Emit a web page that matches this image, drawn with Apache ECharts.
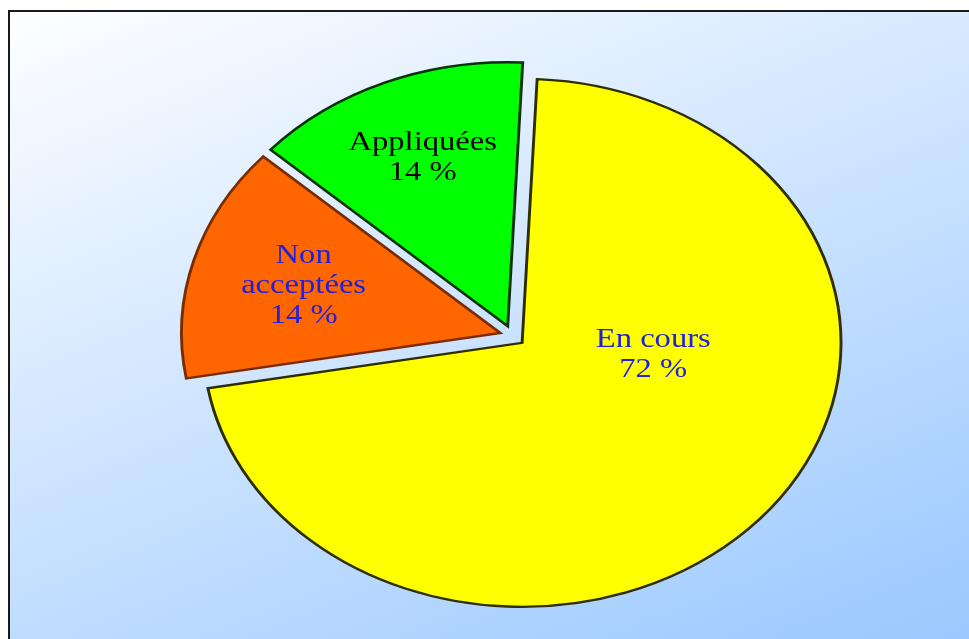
<!DOCTYPE html>
<html>
<head>
<meta charset="utf-8">
<script src="https://cdn.jsdelivr.net/npm/echarts@6/dist/echarts.min.js"></script>
<style>
  html, body { margin: 0; padding: 0; background: #ffffff; }
  #chart { width: 969px; height: 639px; }
</style>
</head>
<body>
<div id="chart"></div>
<script>
  // data, clockwise from the top (shares,
  // the labels show them rounded)
  var categories = ['En cours', 'Non acceptées', 'Appliquées'];
  var values = [71.5, 14.4, 14.1];

  // look of each slice
  var sliceColors = ['#ffff00', '#ff6600', '#00ff00'];
  var edgeColors = ['#2e2e00', '#7a2c00', '#0b330b'];
  var textColors = ['#2020e0', '#2020e0', '#000000'];

  // layout: the pie is a circle stretched sideways into an ellipse
  var CX = 512.6, CY = 335.9, R = 264, SX = 1.208;
  var EXPLODE = 10.5;
  var START = -87.3 * Math.PI / 180;
  // label placement: [angle in degrees or null for mid angle, radius]
  var labelPolar = [[9.3, 118], [null, 180], [null, 193]];

  var total = values.reduce(function (a, b) { return a + b; }, 0);
  var starts = [];
  var acc = START;
  for (var i = 0; i < values.length; i++) {
    starts.push(acc);
    acc += values[i] / total * Math.PI * 2;
  }

  function renderSlice(params, api) {
    var i = params.dataIndex;
    var v = api.value(0);
    var a0 = starts[i];
    var a1 = a0 + v / total * Math.PI * 2;
    var mid = (a0 + a1) / 2;
    var ox = Math.cos(mid) * EXPLODE;
    var oy = Math.sin(mid) * EXPLODE;
    var lp = labelPolar[i];
    var la = lp[0] === null ? mid : lp[0] * Math.PI / 180;
    var pct = Math.round(v / total * 100);
    return {
      type: 'group',
      x: CX,
      y: CY,
      scaleX: SX,
      children: [{
        type: 'sector',
        shape: {
          cx: ox, cy: oy, r: R, r0: 0,
          startAngle: a0, endAngle: a1, clockwise: true
        },
        style: {
          fill: sliceColors[i],
          stroke: edgeColors[i],
          lineWidth: 2.4
        }
      }, {
        type: 'text',
        x: Math.cos(la) * lp[1],
        y: Math.sin(la) * lp[1],
        style: {
          text: categories[i].replace(' acceptées', '\nacceptées') + '\n' + pct + ' %',
          fill: textColors[i],
          fontFamily: '"Liberation Serif", "DejaVu Serif", serif',
          fontSize: 27,
          lineHeight: 30,
          align: 'center',
          verticalAlign: 'middle'
        }
      }]
    };
  }

  var chart = echarts.init(document.getElementById('chart'), null, { renderer: 'canvas' });

  chart.setOption({
    animation: false,
    backgroundColor: '#ffffff',
    graphic: [{
      type: 'rect',
      z: -10,
      shape: { x: 9, y: 11, width: 1000, height: 700 },
      style: {
        fill: {
          type: 'linear', global: true,
          x: 0, y: 0, x2: 352, y2: 886,
          colorStops: [
            { offset: 0, color: '#ffffff' },
            { offset: 1, color: '#9ac8ff' }
          ]
        },
        stroke: '#1a1a1a',
        lineWidth: 2
      }
    }],
    series: [{
      type: 'custom',
      coordinateSystem: 'none',
      renderItem: renderSlice,
      data: categories.map(function (name, i) {
        return { name: name, value: [values[i]] };
      })
    }]
  });
</script>
</body>
</html>
